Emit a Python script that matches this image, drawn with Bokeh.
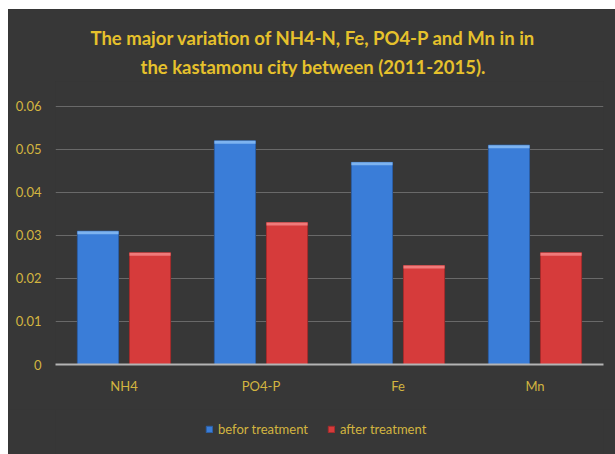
from bokeh.plotting import figure
from bokeh.layouts import column
from bokeh.models import (FactorRange, Range1d, FixedTicker, Legend, LegendItem, Title, ColumnDataSource)
from bokeh.transform import dodge
from bokeh.embed import file_html
from bokeh.resources import INLINE

categories = ["NH4", "PO4-P", "Fe", "Mn"]
before_treatment = [0.031, 0.052, 0.047, 0.051]
after_treatment = [0.026, 0.033, 0.023, 0.026]
y_ticks = [0, 0.01, 0.02, 0.03, 0.04, 0.05, 0.06]
y_tick_labels = ["0", "0.01", "0.02", "0.03", "0.04", "0.05", "0.06"]
series_names = ["befor treatment", "after treatment"]
title_line1 = "The major variation of NH4-N, Fe, PO4-P and Mn in in"
title_line2 = "the kastamonu city between (2011-2015)."

FONT = "Lato"
GOLD = "#E6C12C"
TICK_GOLD = "#D3B540"
BG = "#373737"
BLUE, BLUE_EDGE, BLUE_HI = "#3A7DD8", "#2B5FA6", "#7DB3F0"
RED, RED_EDGE, RED_HI = "#D63B3B", "#A52C2C", "#F07A7A"

src = ColumnDataSource(dict(cat=categories, before=before_treatment, after=after_treatment,
                            before_hi=[v - 0.0007 for v in before_treatment],
                            after_hi=[v - 0.0007 for v in after_treatment]))

# main chart (frame extends a little above 0.06 to leave room under the title)
p = figure(width=607, height=400, frame_width=548, frame_height=283,
           x_range=FactorRange(*categories), y_range=Range1d(0, 0.0658),
           output_backend="svg", toolbar_location=None,
           min_border_left=47, min_border_right=12, min_border_bottom=45, min_border_top=72)
p.background_fill_color = BG
p.border_fill_color = BG
p.outline_line_color = None

t2 = Title(text=title_line2, align="left", offset=85, text_color=GOLD, text_font=FONT,
           text_font_size="18.5px", text_font_style="bold", standoff=8)
p.add_layout(t2, "above")
t1 = Title(text=title_line1, align="left", offset=35, text_color=GOLD, text_font=FONT,
           text_font_size="18.5px", text_font_style="bold", standoff=2)
p.add_layout(t1, "above")

p.vbar(x=dodge("cat", -0.19, range=p.x_range), top="before", width=0.3, source=src,
       fill_color=BLUE, line_color=BLUE_EDGE, line_width=1)
p.vbar(x=dodge("cat", 0.19, range=p.x_range), top="after", width=0.3, source=src,
       fill_color=RED, line_color=RED_EDGE, line_width=1)
p.vbar(x=dodge("cat", -0.19, range=p.x_range), top="before", bottom="before_hi", width=0.3,
       source=src, fill_color=BLUE_HI, line_color=None)
p.vbar(x=dodge("cat", 0.19, range=p.x_range), top="after", bottom="after_hi", width=0.3,
       source=src, fill_color=RED_HI, line_color=None)

p.yaxis.ticker = FixedTicker(ticks=y_ticks)
p.yaxis.major_label_overrides = {v: s for v, s in zip(y_ticks, y_tick_labels)}
p.yaxis.axis_line_color = None
p.yaxis.major_tick_line_color = None
p.yaxis.minor_tick_line_color = None
p.yaxis.major_label_text_color = TICK_GOLD
p.yaxis.major_label_text_font = FONT
p.yaxis.major_label_text_font_size = "13px"
p.yaxis.major_label_standoff = 8

p.xaxis.axis_line_color = "#B4B4B4"
p.xaxis.axis_line_width = 2
p.xaxis.major_tick_line_color = None
p.xaxis.minor_tick_line_color = None
p.xaxis.major_label_text_color = TICK_GOLD
p.xaxis.major_label_text_font = FONT
p.xaxis.major_label_text_font_size = "13px"
p.xaxis.major_label_standoff = 7

p.xgrid.grid_line_color = None
p.ygrid.grid_line_color = "#696969"
p.ygrid.grid_line_width = 1

# legend strip below the chart
pl = figure(width=607, height=45, x_range=FactorRange(*categories), y_range=Range1d(1, 2),
            output_backend="svg", toolbar_location=None,
            x_axis_location=None, y_axis_location=None,
            min_border_left=47, min_border_right=12, min_border_bottom=0, min_border_top=0)
pl.background_fill_color = BG
pl.border_fill_color = BG
pl.outline_line_color = None
pl.grid.visible = False
pl.styles = {"background-color": BG}
lb = pl.vbar(x="cat", top="before", width=0.3, source=src, fill_color=BLUE, line_color=BLUE_EDGE)
la = pl.vbar(x="cat", top="after", width=0.3, source=src, fill_color=RED, line_color=RED_EDGE)

legend = Legend(items=[LegendItem(label=series_names[0], renderers=[lb]),
                       LegendItem(label=series_names[1], renderers=[la])],
                orientation="horizontal", location=(150, 17),
                background_fill_alpha=0, border_line_color=None,
                label_text_color=TICK_GOLD, label_text_font=FONT, label_text_font_size="13px",
                glyph_width=8, glyph_height=8, label_standoff=5, spacing=19,
                padding=0, margin=0, label_height=14)
pl.add_layout(legend)

layout = column(p, pl, spacing=0)
layout.styles = {"margin-left": "8px", "margin-top": "9px", "background-color": BG}

open("out.html", "w").write(file_html(layout, INLINE))
